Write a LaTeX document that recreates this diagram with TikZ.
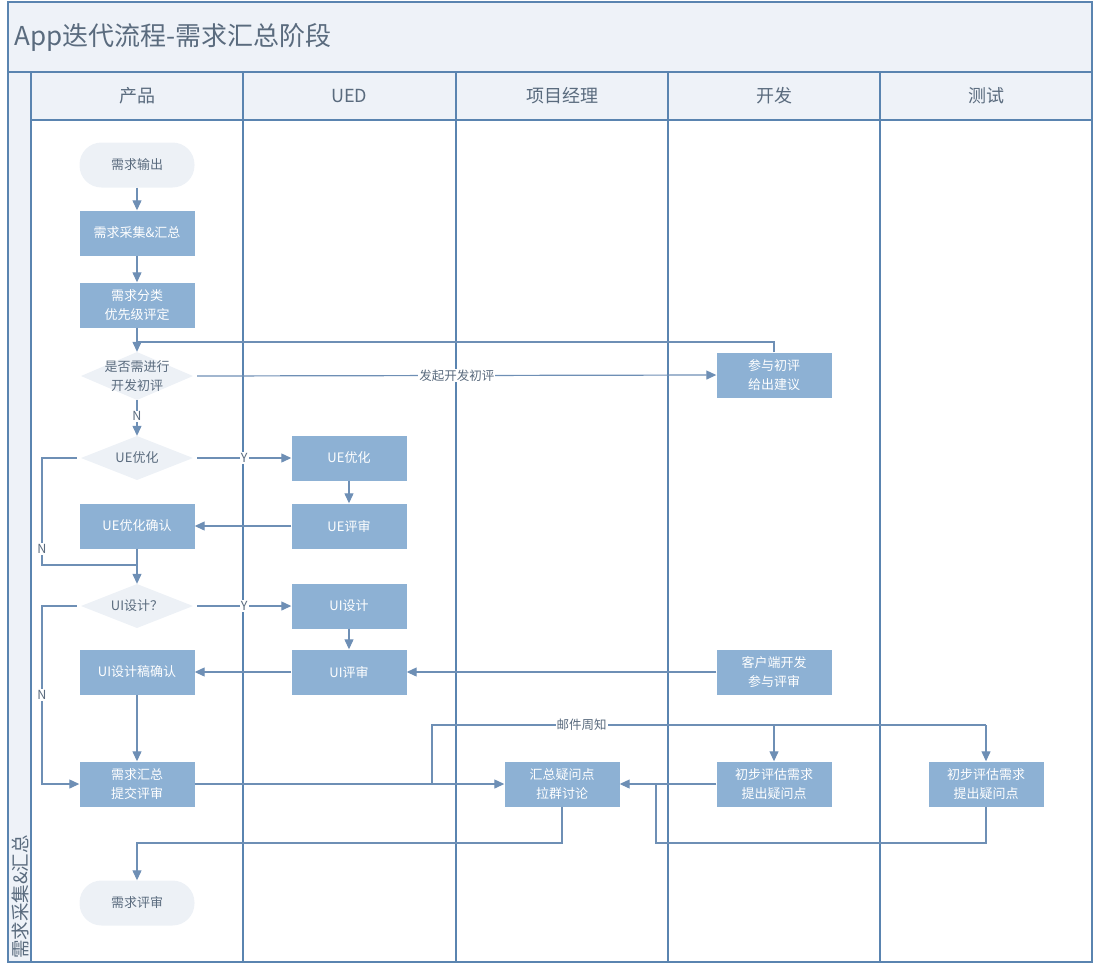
\documentclass[tikz,border=0pt]{standalone}
\usepackage{fontspec}
\setmainfont{Noto Sans CJK SC}
\usetikzlibrary{arrows.meta,positioning,calc}
\definecolor{frame}{HTML}{5A84B0}
\definecolor{hdr}{HTML}{EEF2F8}
\definecolor{boxc}{HTML}{8DB1D4}
\definecolor{pill}{HTML}{EDF1F6}
\definecolor{conn}{HTML}{6E8FB5}
\definecolor{gtext}{HTML}{5A6B7E}
\tikzset{
  procbox/.style={rectangle, fill=boxc, minimum width=115pt, minimum height=45pt, inner sep=0pt, text=white, font=\fontsize{13}{19.5}\selectfont, align=center},
  pillbox/.style={rectangle, rounded corners=22pt, fill=pill, minimum width=115pt, minimum height=45pt, inner sep=0pt, text=gtext, font=\fontsize{13}{19.5}\selectfont, align=center},
  decbox/.style={rectangle, minimum width=112pt, minimum height=46pt, inner sep=0pt, text=gtext, font=\fontsize{13}{19.5}\selectfont, align=center,
    path picture={\fill[pill] (path picture bounding box.north) -- (path picture bounding box.east) -- (path picture bounding box.south) -- (path picture bounding box.west) -- cycle;}},
  conline/.style={draw=conn, line width=1.2pt},
  arr/.style={conline, -{Triangle[length=10pt,width=9pt]}},
  lbl/.style={fill=white, inner sep=1pt, text=gtext, font=\fontsize{12.5}{14}\selectfont},
  lanehdr/.style={text=gtext, font=\fontsize{18}{20}\selectfont},
  laneline/.style={draw=frame, line width=1.8pt}
}
\begin{document}
\begin{tikzpicture}[x=1pt,y=-1pt]
\useasboundingbox (0,0) rectangle (1094,970);
% backgrounds
\fill[hdr] (8,2) rectangle (1092,72);
\fill[hdr] (31,72) rectangle (1092,120);
\fill[hdr] (8,72) rectangle (31,962);
% frame and lanes
\draw[laneline] (8,2) rectangle (1092,962);
\draw[laneline] (8,72) -- (1092,72);
\draw[laneline] (31,72) -- (31,962);
\draw[laneline] (31,120) -- (1092,120);
\foreach \x in {243,456,668,880} \draw[laneline] (\x,72) -- (\x,962);
% title and headers
\node[anchor=west, text=gtext, font=\fontsize{26}{29}\selectfont, inner sep=0pt] (title) at (14,37) {App迭代流程-需求汇总阶段};
\node[lanehdr] (h1) at (137,96) {产品};
\node[lanehdr] (h2) at (349,96) {UED};
\node[lanehdr] (h3) at (562,96) {项目经理};
\node[lanehdr] (h4) at (774,96) {开发};
\node[lanehdr] (h5) at (986,96) {测试};
\node[rotate=90, anchor=west, text=gtext, font=\fontsize{18.5}{20}\selectfont, inner sep=0pt] (phase) at (20,959) {需求采集\&汇总};
% nodes
\node[pillbox] (out) at (137,165) {需求输出};
\node[procbox] (collect) at (137,233) {需求采集\&汇总};
\node[procbox] (classify) at (137,305) {需求分类\\优先级评定};
\node[decbox, minimum height=48pt] (d1) at (137,376) {是否需进行\\开发初评};
\node[procbox] (devinit) at (774,375) {参与初评\\给出建议};
\node[decbox, minimum height=44pt] (d2) at (137,458) {UE优化};
\node[procbox] (ueopt) at (349,458) {UE优化};
\node[procbox] (uerev) at (349,526) {UE评审};
\node[procbox] (ueconf) at (137,526) {UE优化确认};
\node[decbox, minimum height=44pt] (d3) at (137,606) {UI设计？};
\node[procbox] (uides) at (349,606) {UI设计};
\node[procbox] (uirev) at (349,672) {UI评审};
\node[procbox] (uiconf) at (137,672) {UI设计稿确认};
\node[procbox] (client) at (774,672) {客户端开发\\参与评审};
\node[procbox] (summ) at (137,784) {需求汇总\\提交评审};
\node[procbox] (pm) at (562,784) {汇总疑问点\\拉群讨论};
\node[procbox] (deveval) at (774,784) {初步评估需求\\提出疑问点};
\node[procbox] (testeval) at (986,784) {初步评估需求\\提出疑问点};
\node[pillbox] (review) at (137,903) {需求评审};
% connectors
\draw[arr] (out) -- (collect);
\draw[arr] (collect) -- (classify);
\draw[arr] (classify) -- (d1);
\coordinate (j1) at (137,342);
\draw[conline] (devinit.north) -- (774,342) -- (j1);
\draw[arr] ([xshift=4pt]d1.east) -- node[lbl] {发起开发初评} (devinit.west);
\draw[arr] (d1.south) -- node[lbl, pos=0.45] {N} (d2.north);
\draw[arr] ([xshift=4pt]d2.east) -- node[lbl, pos=0.5] {Y} (ueopt.west);
\draw[arr] (ueopt) -- (uerev);
\draw[arr] (uerev) -- (ueconf);
\coordinate (j2) at (137,565);
\draw[conline] ([xshift=-4pt]d2.west) -- (42,458) -- node[lbl, pos=0.85] {N} (42,565) -- (j2);
\draw[arr] (ueconf) -- (d3);
\draw[arr] ([xshift=4pt]d3.east) -- node[lbl, pos=0.5] {Y} (uides.west);
\draw[arr] (uides) -- (uirev);
\draw[arr] (uirev) -- (uiconf);
\draw[arr] (client) -- (uirev);
\draw[arr] ([xshift=-4pt]d3.west) -- (42,606) -- node[lbl, pos=0.5] {N} (42,784) -- (summ.west);
\draw[arr] (uiconf) -- (summ);
\draw[arr] (summ) -- (pm);
\coordinate (m0) at (432,784);
\draw[conline] (m0) -- (432,725) -- node[lbl, pos=0.27] {邮件周知} (986,725);
\draw[arr] (774,725) -- (deveval.north);
\draw[arr] (986,725) -- (testeval.north);
\draw[arr] (deveval) -- (pm);
\coordinate (j3) at (656,784);
\draw[conline] (testeval.south) -- (986,843) -- (656,843) -- (j3);
\draw[arr] (pm.south) -- (562,843) -- (137,843) -- (review.north);
\end{tikzpicture}
\end{document}
